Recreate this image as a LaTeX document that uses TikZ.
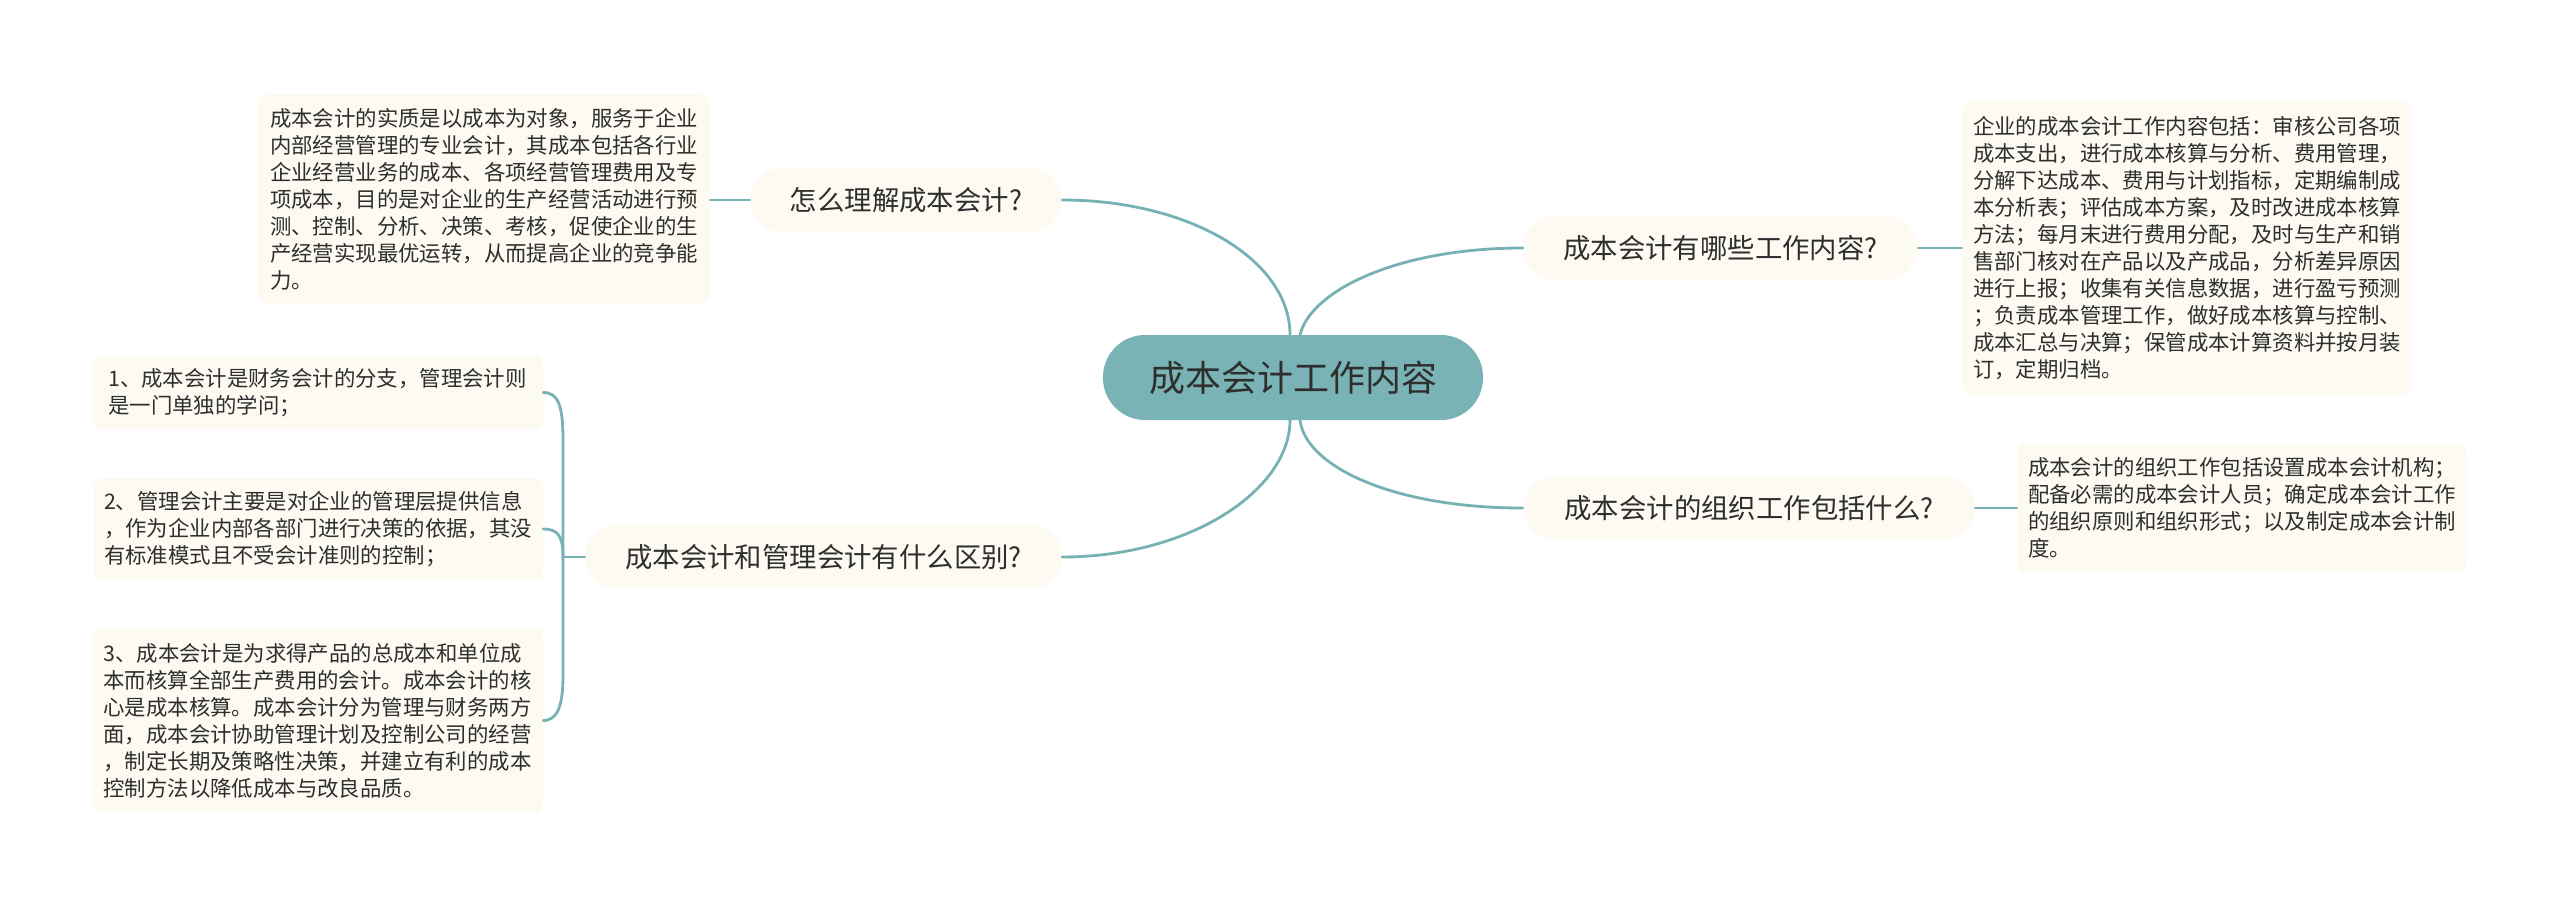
\documentclass[tikz,border=0pt]{standalone}
\usepackage{fontspec}
\newfontfamily\cjk{Noto Sans CJK SC}
\definecolor{teal}{HTML}{76B1B4}
\definecolor{centerfill}{HTML}{7AB3B5}
\definecolor{cream}{HTML}{FCFAF1}
\definecolor{ink}{HTML}{2E2E2E}
\tikzset{
  conn/.style={draw=teal, line width=2.8pt, line cap=round},
  root/.style={fill=centerfill, rounded corners=42pt, minimum width=380pt, minimum height=85pt, inner sep=0pt,
    text=ink, font=\cjk\fontsize{36pt}{40pt}\selectfont},
  branch/.style={fill=cream, rounded corners=32pt, minimum height=64pt, inner sep=0pt,
    text=ink, font=\cjk\fontsize{27.4pt}{32pt}\selectfont},
  leaf/.style={fill=cream, rounded corners=10pt, inner sep=0pt, align=left,
    text=ink, font=\cjk\fontsize{21.4pt}{27pt}\selectfont}
}
\begin{document}
\begin{tikzpicture}[x=1pt,y=-1pt]
\fill[white] (0,0) rectangle (2560,907);
\useasboundingbox (0,0) rectangle (2560,907);

% nodes
\node[root] (c) at (1293,377.5) {成本会计工作内容};
\node[branch, minimum width=312pt] (b1) at (906,200) {怎么理解成本会计?};
\node[branch, minimum width=477pt] (b4) at (823.5,557) {成本会计和管理会计有什么区别?};
\node[branch, minimum width=395pt] (b2) at (1720.5,248) {成本会计有哪些工作内容?};
\node[branch, minimum width=452pt] (b3) at (1749,508) {成本会计的组织工作包括什么?};

\node[leaf, minimum width=452pt, minimum height=210pt] (l1) at (484,199) {成本会计的实质是以成本为对象，服务于企业\\内部经营管理的专业会计，其成本包括各行业\\企业经营业务的成本、各项经营管理费用及专\\项成本，目的是对企业的生产经营活动进行预\\测、控制、分析、决策、考核，促使企业的生\\产经营实现最优运转，从而提高企业的竞争能\\力。};

\node[leaf, minimum width=450pt, minimum height=294pt] (r1) at (2187,248) {企业的成本会计工作内容包括：审核公司各项\\成本支出，进行成本核算与分析、费用管理，\\分解下达成本、费用与计划指标，定期编制成\\本分析表；评估成本方案，及时改进成本核算\\方法；每月末进行费用分配，及时与生产和销\\售部门核对在产品以及产成品，分析差异原因\\进行上报；收集有关信息数据，进行盈亏预测\\；负责成本管理工作，做好成本核算与控制、\\成本汇总与决算；保管成本计算资料并按月装\\订，定期归档。};

\node[leaf, minimum width=450pt, minimum height=130pt] (r2) at (2242,508) {成本会计的组织工作包括设置成本会计机构；\\配备必需的成本会计人员；确定成本会计工作\\的组织原则和组织形式；以及制定成本会计制\\度。};

\node[leaf, minimum width=451pt, minimum height=75pt] (la) at (317.5,392.5) {1、成本会计是财务会计的分支，管理会计则\\是一门单独的学问；};

\node[leaf, minimum width=450pt, minimum height=102pt] (lb) at (318,529) {2、管理会计主要是对企业的管理层提供信息\\，作为企业内部各部门进行决策的依据，其没\\有标准模式且不受会计准则的控制；};

\node[leaf, minimum width=451pt, minimum height=185pt] (lc) at (317.5,720.5) {3、成本会计是为求得产品的总成本和单位成\\本而核算全部生产费用的会计。成本会计的核\\心是成本核算。成本会计分为管理与财务两方\\面，成本会计协助管理计划及控制公司的经营\\，制定长期及策略性决策，并建立有利的成本\\控制方法以降低成本与改良品质。};

% attachment coordinates on root
\coordinate (ctl) at (1290,335);
\coordinate (ctr) at (1300,335);
\coordinate (cbl) at (1290,420);
\coordinate (cbr) at (1300,420);
\coordinate (sp) at (563,557);
\coordinate (spA) at (563,440);
\coordinate (spC) at (563,675);

% root connectors
\begin{scope}[on background layer/.try]
\end{scope}
\draw[conn] (ctl) .. controls (1290,260) and (1190,200) .. (b1.east);
\draw[conn] (ctr) .. controls (1310,292) and (1395,248) .. (b2.west);
\draw[conn] (cbl) .. controls (1290,490) and (1190,557) .. (b4.east);
\draw[conn] (cbr) .. controls (1305,465) and (1390,508) .. (b3.west);

% branch to leaf connectors
\draw[conn] (b1.west) -- (b1.west -| l1.east);
\draw[conn] (b2.east) -- (b2.east -| r1.west);
\draw[conn] (b3.east) -- (b3.east -| r2.west);

\draw[conn] (b4.west) -- (sp);
\draw[conn] (la.east) .. controls (558,392.5) and (563,405) .. (spA) -- (sp);
\draw[conn] (lb.east) .. controls (558,529) and (563,536) .. (sp);
\draw[conn] (lc.east) .. controls (558,720.5) and (563,705) .. (spC) -- (sp);
\end{tikzpicture}
\end{document}
